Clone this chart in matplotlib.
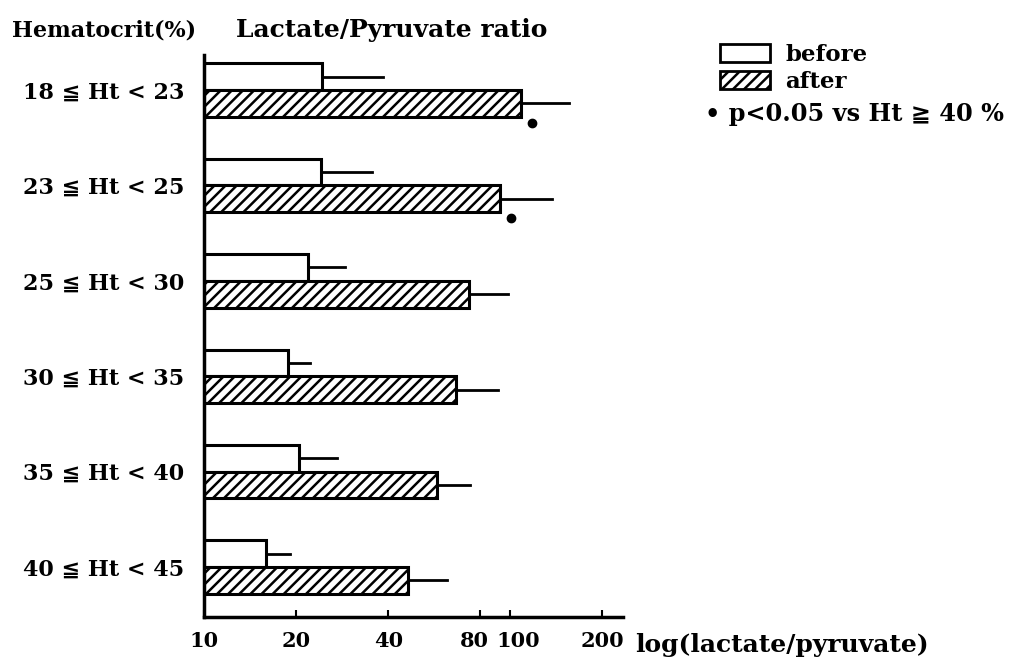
import numpy as np
from matplotlib import pyplot as plt
from matplotlib.patches import Patch
import matplotlib.transforms as mtransforms

plt.rcParams['font.family'] = ['DejaVu Serif', 'DejaVu Sans']
plt.rcParams['font.weight'] = 'bold'
plt.rcParams['hatch.linewidth'] = 1.8

# data
groups = ['18 ≦ Ht < 23', '23 ≦ Ht < 25', '25 ≦ Ht < 30',
          '30 ≦ Ht < 35', '35 ≦ Ht < 40', '40 ≦ Ht < 45']
before = [24.3, 24.1, 21.9, 18.8, 20.4, 15.9]
before_err = [38.5, 35.4, 28.9, 22.2, 27.2, 19.1]   # end of error line
after = [108.6, 92.7, 73.5, 66.6, 57.7, 46.4]
after_err = [156, 137, 98.5, 91.4, 74.0, 62.2]
signif = [True, True, False, False, False, False]
xticks = [10, 20, 40, 80, 100, 200]

fig = plt.figure(figsize=(10.13, 6.68), dpi=100)
ax = fig.add_axes([0.2014, 0.0763, 0.4136, 0.8413])

y = np.arange(len(groups))
h = 0.28
ax.barh(y - h / 2, before, height=h, left=0, color='white',
        edgecolor='black', linewidth=2.2)
ax.barh(y + h / 2, after, height=h, left=0, color='white',
        edgecolor='black', linewidth=2.2, hatch='///')

# one-sided error lines
for i in range(len(groups)):
    ax.plot([before[i], before_err[i]], [y[i] - h / 2, y[i] - h / 2],
            color='black', lw=2)
    ax.plot([after[i], after_err[i]], [y[i] + h / 2, y[i] + h / 2],
            color='black', lw=2)
    if signif[i]:
        ax.plot(after[i] * 1.086, y[i] + h + 0.065, 'o', color='black',
                markersize=6)

ax.set_xscale('log')
ax.set_xlim(10, 234)
ax.set_ylim(5.524, -0.367)
ax.set_xticks(xticks)
ax.set_xticklabels([str(t) for t in xticks])
ax.minorticks_off()
ax.tick_params(axis='x', direction='in', length=5, width=1.5,
               labelsize=15, pad=10)
# 80 and 100 sit close together, nudge them apart like the original
for lab in ax.get_xticklabels():
    if lab.get_text() == '80':
        lab.set_transform(lab.get_transform() + mtransforms.ScaledTranslation(-6 / 100, 0, fig.dpi_scale_trans))
    if lab.get_text() == '100':
        lab.set_transform(lab.get_transform() + mtransforms.ScaledTranslation(8 / 100, 0, fig.dpi_scale_trans))
ax.set_yticks(y)
ax.set_yticklabels(groups, fontsize=16)
ax.tick_params(axis='y', length=0, pad=14)
for s in ['top', 'right']:
    ax.spines[s].set_visible(False)
for s in ['left', 'bottom']:
    ax.spines[s].set_linewidth(2.5)

ax.text(1.029, -0.05, 'log(lactate/pyruvate)', transform=ax.transAxes,
        fontsize=18, va='center', ha='left')
fig.text(0.012, 0.955, 'Hematocrit(%)', fontsize=16, va='center')
fig.text(0.233, 0.955, 'Lactate/Pyruvate ratio', fontsize=18, va='center')

handles = [Patch(facecolor='white', edgecolor='black', linewidth=2),
           Patch(facecolor='white', edgecolor='black', linewidth=2,
                 hatch='///')]
fig.legend(handles, ['before', 'after'], loc='upper left',
           bbox_to_anchor=(0.711, 0.934), frameon=False, fontsize=16.5,
           handlelength=2.15, handleheight=0.85, labelspacing=0.2,
           handletextpad=0.7, borderpad=0, borderaxespad=0)
fig.text(0.696, 0.829, '• p<0.05 vs Ht ≧ 40 %', fontsize=17.3, va='center')

fig.savefig('out.png', dpi=100)
